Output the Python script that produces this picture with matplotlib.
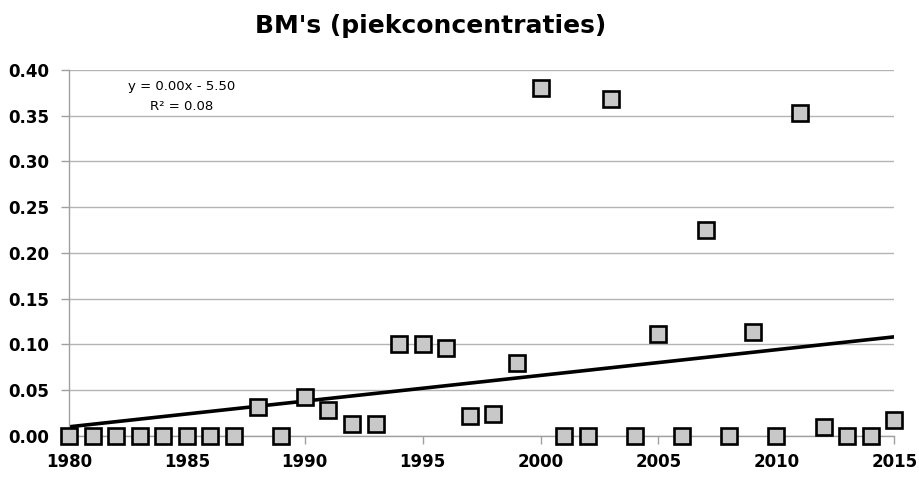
import numpy as np
import matplotlib.pyplot as plt

# data
years = np.arange(1980, 2016)
values = [0.0, 0.0, 0.0, 0.0, 0.0, 0.0, 0.0, 0.0,   # 1980-1987
          0.032, 0.0, 0.042, 0.028, 0.013, 0.013,    # 1988-1993
          0.100, 0.100, 0.096, 0.022, 0.024, 0.080,  # 1994-1999
          0.380, 0.0, 0.0, 0.368, 0.0, 0.111,        # 2000-2005
          0.0, 0.225, 0.0, 0.114, 0.0, 0.353,        # 2006-2011
          0.010, 0.0, 0.0, 0.017]                    # 2012-2015
title = "BM's (piekconcentraties)"
eq_text = "y = 0.00x - 5.50"
r2_text = "R² = 0.08"

fig = plt.figure(figsize=(9.2, 4.78), dpi=100)
ax = fig.add_axes([0.075, 0.088, 0.897, 0.766])

# linear trend line (least squares)
coef = np.polyfit(years, values, 1)
xfit = np.array([1980, 2015])
ax.plot(xfit, np.polyval(coef, xfit), color='black', lw=2.6, zorder=2)

ax.plot(years, values, linestyle='none', marker='s', markersize=11.5,
        markerfacecolor='#c8c8c8', markeredgecolor='black', markeredgewidth=1.9,
        clip_on=False, zorder=3)

ax.set_xlim(1980, 2015)
ax.set_ylim(0, 0.40)
ax.set_xticks(np.arange(1980, 2016, 5))
ax.set_yticks(np.arange(0, 0.401, 0.05))
ax.set_yticklabels([f'{v:.2f}' for v in np.arange(0, 0.401, 0.05)])

ax.grid(axis='y', color='#b4b4b4', lw=1.0)
ax.set_axisbelow(True)
for s in ['top', 'right']:
    ax.spines[s].set_visible(False)
for s in ['left', 'bottom']:
    ax.spines[s].set_color('#a0a0a0')
    ax.spines[s].set_linewidth(1.0)
ax.tick_params(axis='both', colors='#a0a0a0', labelcolor='black', length=6, width=1.0)
ax.tick_params(axis='x', pad=6)
ax.tick_params(axis='y', pad=8)
for lab in ax.get_xticklabels() + ax.get_yticklabels():
    lab.set_fontweight('bold')
    lab.set_fontsize(12)

ax.text(0.137, 0.955, eq_text, transform=ax.transAxes, ha='center', va='center', fontsize=9.5)
ax.text(0.137, 0.9, r2_text, transform=ax.transAxes, ha='center', va='center', fontsize=9.5)

fig.text(0.468, 0.945, title, ha='center', va='center', fontsize=18, fontweight='bold')

fig.savefig('out.png', dpi=100)
